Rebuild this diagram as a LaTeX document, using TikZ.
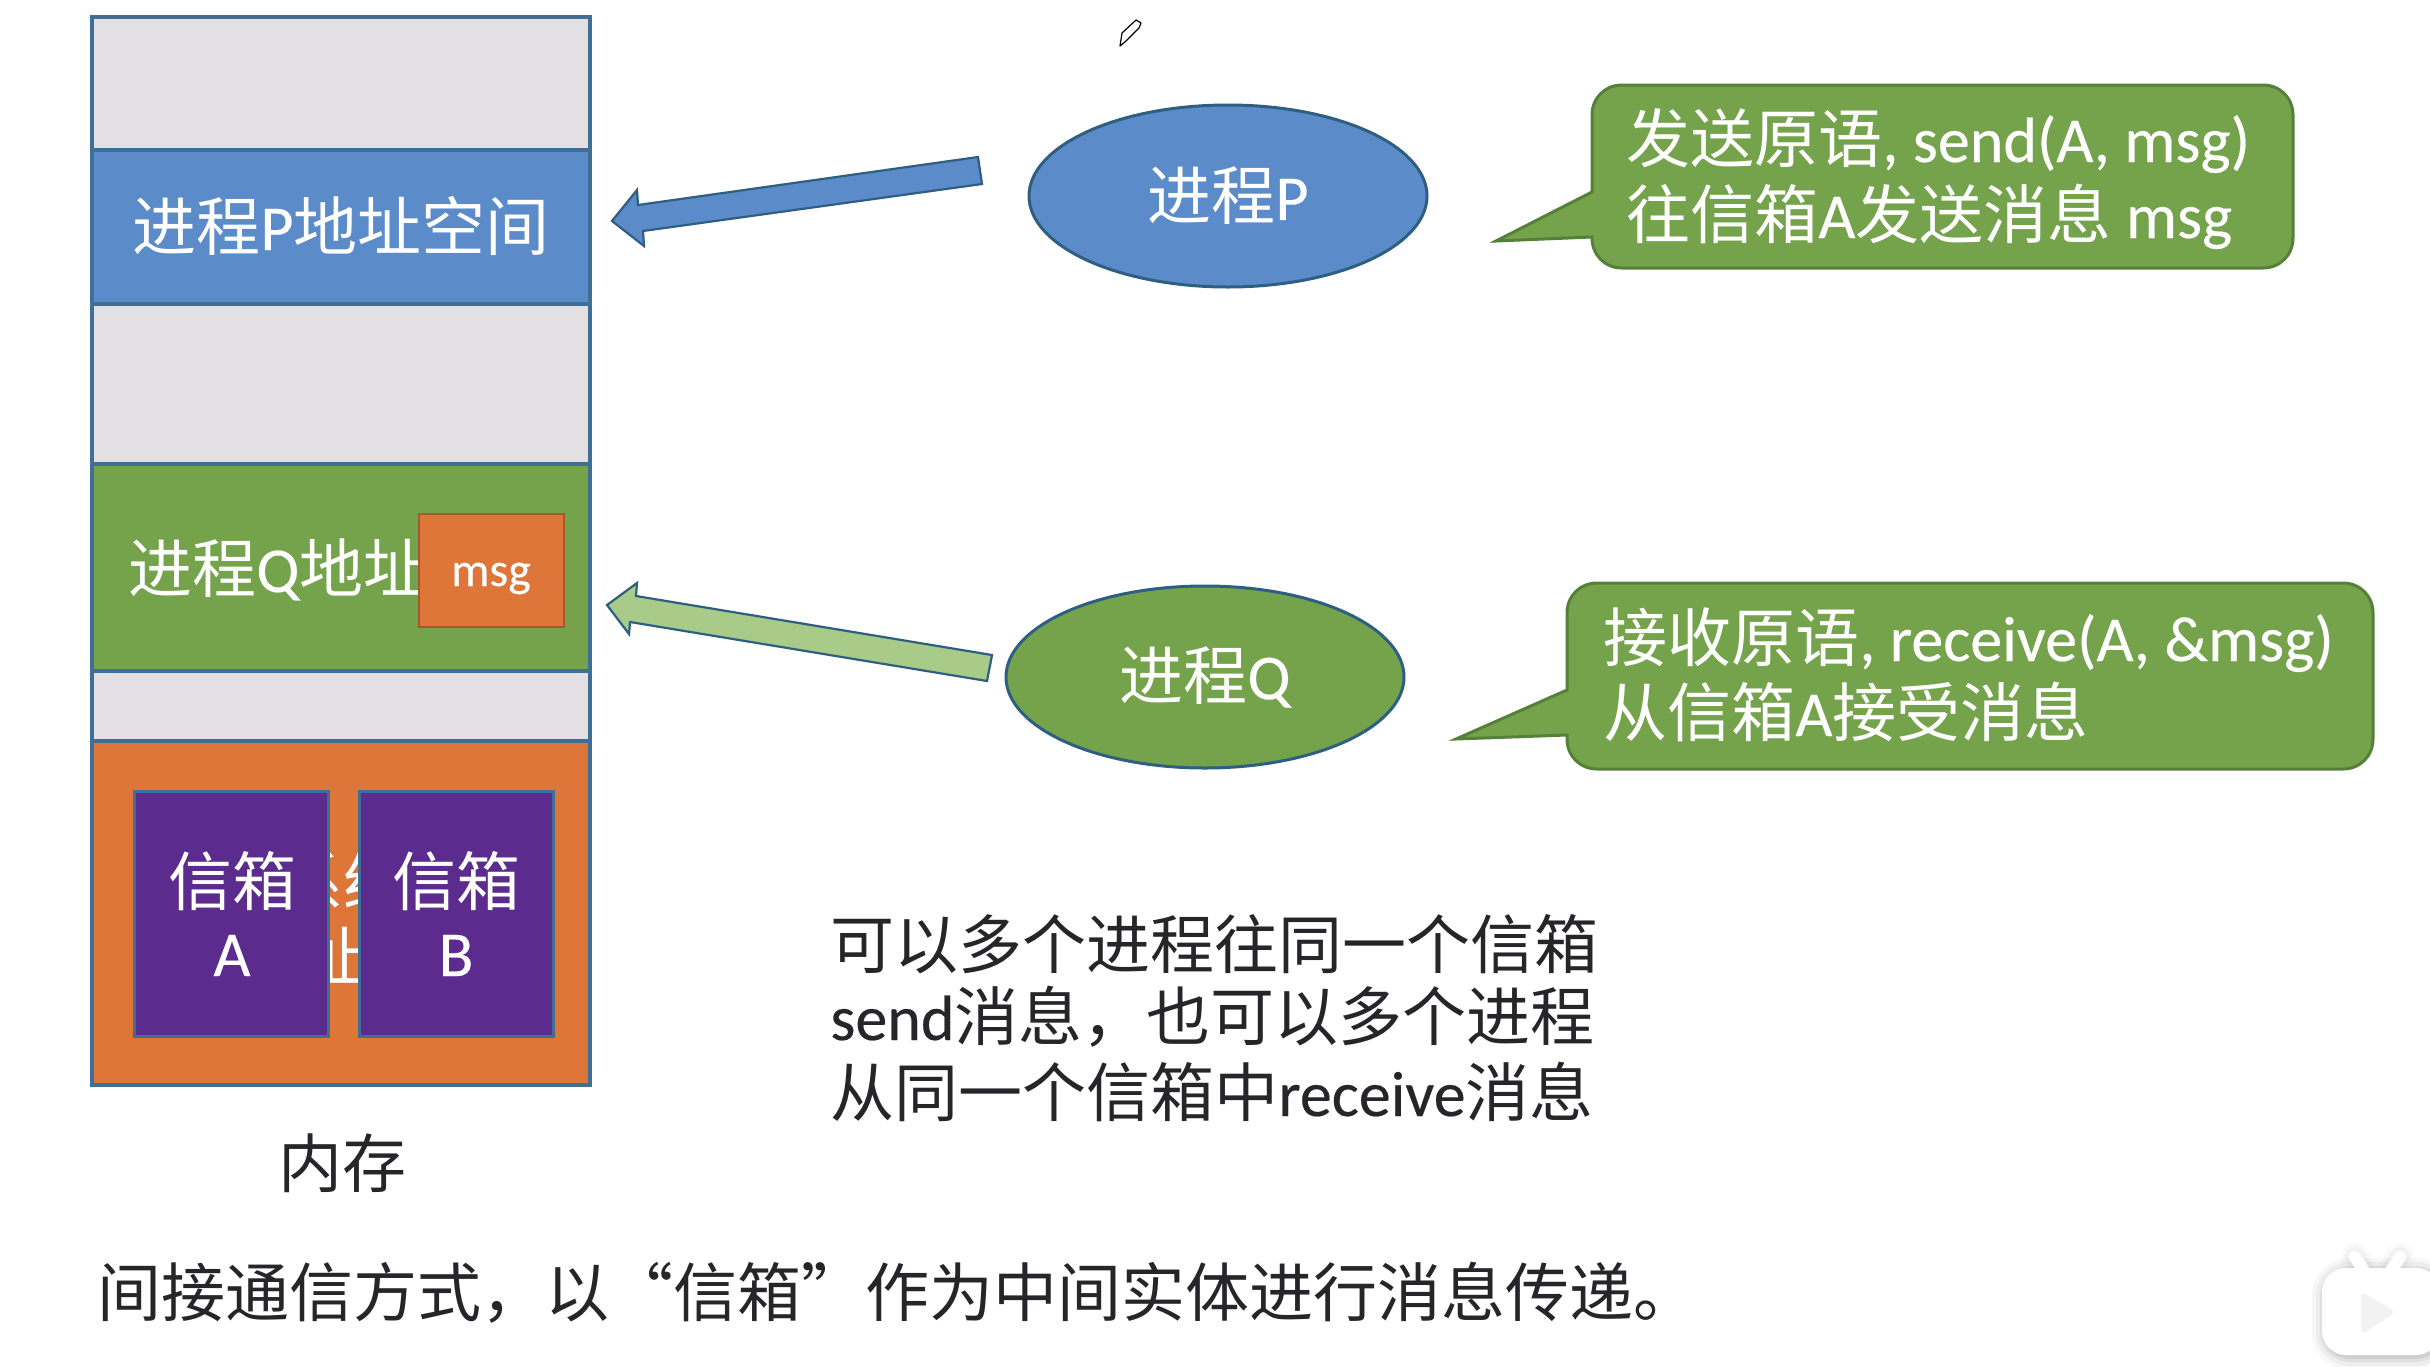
\documentclass[tikz,border=0pt]{standalone}
\usepackage{fontspec}
\usetikzlibrary{shapes.geometric}
\setmainfont{Noto Sans CJK SC}
\newfontfamily\lat[FakeBold=0.3]{Carlito}
\newcommand{\la}[1]{{\lat #1}}
\definecolor{edgeb}{HTML}{3F6F96}
\definecolor{edged}{HTML}{2F5F80}
\definecolor{cgray}{HTML}{E2E0E2}
\definecolor{cblue}{HTML}{5B8BC9}
\definecolor{cgreen}{HTML}{75A34C}
\definecolor{corange}{HTML}{DE763A}
\definecolor{cpurple}{HTML}{5C2B8E}
\definecolor{clight}{HTML}{A8CB89}
\definecolor{cedgeg}{HTML}{55803A}
\definecolor{cink}{HTML}{26262A}
\tikzset{
  x=0.5pt,y=-0.5pt,
  seg/.style={draw=edgeb,line width=1.6pt,rectangle,inner sep=0,minimum width=249pt},
  inbox/.style={draw=edgeb,line width=1.5pt,rectangle,inner sep=0,fill=cpurple},
  wtext/.style={text=white,inner sep=0,font=\fontsize{32}{38}\selectfont},
  btext/.style={text=cink,inner sep=0,font=\fontsize{32}{38}\selectfont},
  proc/.style={ellipse,draw=edged,line width=1.5pt,inner sep=0,minimum width=199pt,minimum height=91pt},
  bubble/.style={fill=cgreen,draw=cedgeg,line width=1.5pt,line join=miter},
  blockarrow/.style={draw=edged,line width=1.1pt,line join=miter},
}
\begin{document}
\begin{tikzpicture}
\useasboundingbox[fill=white] (0,0) rectangle (2430,1366);
% memory column
\node[seg,fill=cgray,minimum height=66.5pt] (g1) at (341,83.5) {};
\node[seg,fill=cblue,minimum height=77pt] (segp) at (341,227) {};
\node[seg,fill=cgray,minimum height=80pt] (g2) at (341,384) {};
\node[seg,fill=cgreen,minimum height=103.5pt] (segq) at (341,567.5) {};
\node[seg,fill=cgray,minimum height=35pt] (g3) at (341,706) {};
\node[seg,fill=corange,minimum height=172pt] (segs) at (341,913) {};
\node[wtext,anchor=base] (tp) at (341,250) {进程\la{P}地址空间};
\node[wtext,anchor=base west] (tq) at (128,592) {进程\la{Q}地址};
\node[wtext,anchor=base] (ts1) at (343,906) {系统};
\node[wtext,anchor=base] (ts2) at (300,980) {地址};
\node[draw=corange!75!black,line width=1.3pt,fill=corange,inner sep=0,minimum width=72.5pt,minimum height=56.5pt] (msg) at (491.5,570.5) {};
\node[text=white,inner sep=0,anchor=base,font=\fontsize{24}{28}\selectfont\lat] (msgt) at (491,586) {msg};
\node[inbox,minimum width=97pt,minimum height=122.5pt] (boxa) at (231.5,914) {};
\node[inbox,minimum width=97pt,minimum height=122.5pt] (boxb) at (456.5,914) {};
\node[wtext,anchor=base] (ta1) at (232,905) {信箱};
\node[wtext,anchor=base] (ta2) at (232,976) {\la{A}};
\node[wtext,anchor=base] (tb1) at (456,905) {信箱};
\node[wtext,anchor=base] (tb2) at (456,976) {\la{B}};
\node[btext,anchor=base] (mem) at (342,1187) {内存};
% processes
\node[proc,fill=cblue,text=white,font=\fontsize{32}{38}\selectfont] (pp) at (1228,196) {进程\la{P}};
\node[proc,fill=cgreen,text=white,font=\fontsize{32}{38}\selectfont] (pq) at (1205,677) {进程\la{Q}};
% block arrows
\coordinate (a1) at (978,157); \coordinate (a2) at (982,184);
\coordinate (a3) at (643,231); \coordinate (a4) at (644,246);
\coordinate (a5) at (612,221); \coordinate (a6) at (637,190);
\coordinate (a7) at (638,205);
\draw[blockarrow,fill=cblue] (a1)--(a2)--(a3)--(a4)--(a5)--(a6)--(a7)--cycle;
\coordinate (b1) at (992,655); \coordinate (b2) at (987,681);
\coordinate (b3) at (630,622); \coordinate (b4) at (629,634);
\coordinate (b5) at (607,605); \coordinate (b6) at (637,583);
\coordinate (b7) at (636,596);
\draw[blockarrow,fill=clight] (b1)--(b2)--(b3)--(b4)--(b5)--(b6)--(b7)--cycle;
% callouts
\draw[bubble] (1592,192)--(1592,115) .. controls (1592,98) and (1605,85) .. (1622,85)
  --(2263,85) .. controls (2280,85) and (2293,98) .. (2293,115)
  --(2293,238) .. controls (2293,255) and (2280,268) .. (2263,268)
  --(1622,268) .. controls (1605,268) and (1592,255) .. (1592,238)
  --(1592,237)--(1496,241)--cycle;
\node[wtext,anchor=base west] (c1a) at (1626,162) {发送原语\la{, send(A, msg)}};
\node[wtext,anchor=base west] (c1b) at (1626,238) {往信箱\la{A}发送消息\la{ msg}};
\draw[bubble] (1567,690)--(1567,613) .. controls (1567,596) and (1580,583) .. (1597,583)
  --(2343,583) .. controls (2360,583) and (2373,596) .. (2373,613)
  --(2373,739) .. controls (2373,756) and (2360,769) .. (2343,769)
  --(1597,769) .. controls (1580,769) and (1567,756) .. (1567,739)
  --(1567,735)--(1456,739)--cycle;
\node[wtext,anchor=base west] (c2a) at (1603,661) {接收原语\la{, receive(A, \&msg)}};
\node[wtext,anchor=base west] (c2b) at (1603,736) {从信箱\la{A}接受消息};
% free text
\node[btext,anchor=base west] (m1) at (830,968) {可以多个进程往同一个信箱};
\node[btext,anchor=base west] (m2) at (830,1040) {\la{send}消息，也可以多个进程};
\node[btext,anchor=base west] (m3) at (830,1116) {从同一个信箱中\la{receive}消息};
\node[btext,anchor=base west] (cap) at (97,1316) {间接通信方式，以“信箱”作为中间实体进行消息传递。};
% pencil cursor
\draw[black,line width=0.6pt,fill=white,line join=round] (1120,46)--(1122,33)--(1136,20)--(1141,23)--(1139,28)--(1126,41)--cycle;
% player badge
\begin{scope}
  \foreach \w/\o in {14/.03,10/.04,6/.05,3/.07}{
    \draw[black,opacity=\o,line width=\w pt,line join=round,rounded corners=12pt] (2326,1272) rectangle (2440,1356);
  }
  \foreach \w/\o in {8/.02,4/.03}{
    \draw[black,opacity=\o,line width=\w pt+6pt,line cap=round] (2355,1257)--(2368,1277);
    \draw[black,opacity=\o,line width=\w pt+6pt,line cap=round] (2400,1257)--(2387,1277);
  }
  \draw[white,line width=6pt,line cap=round] (2355,1257)--(2368,1277);
  \draw[white,line width=6pt,line cap=round] (2400,1257)--(2387,1277);
  \fill[white,rounded corners=12pt] (2322,1268) rectangle (2440,1355);
  \fill[gray!10,rounded corners=3pt] (2361,1291)--(2396,1312)--(2361,1335)--cycle;
\end{scope}
\end{tikzpicture}
\end{document}
